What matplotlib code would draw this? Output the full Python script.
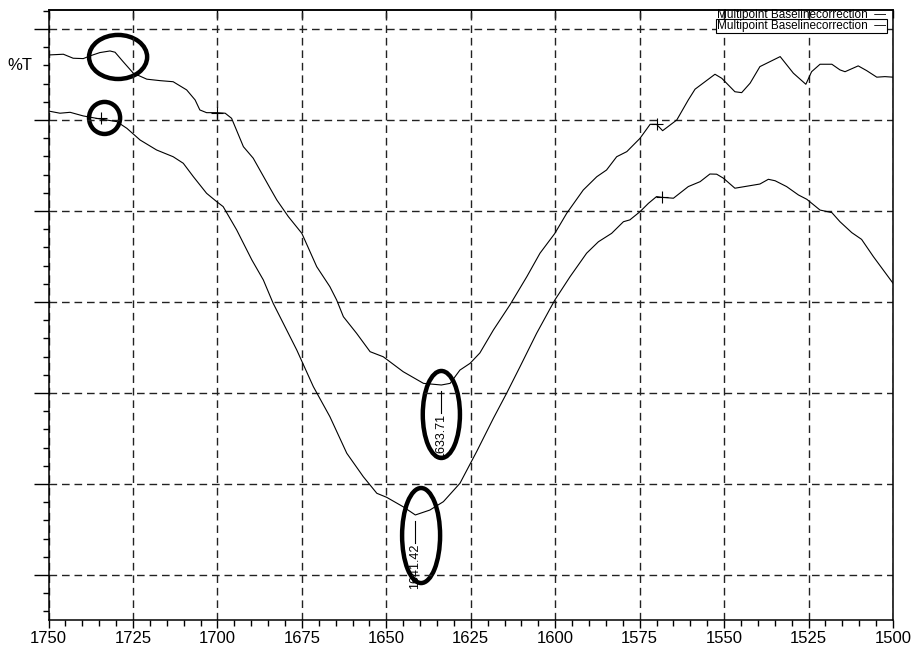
import matplotlib
matplotlib.use("Agg")
import matplotlib.pyplot as plt
from matplotlib.patches import Ellipse
from matplotlib.ticker import MultipleLocator
import numpy as np

# spectrum 1 (upper trace)
wn_a = [1750, 1745.6, 1742.7, 1739.7, 1737.7, 1734.8, 1731.8, 1730.3, 1727.9, 1724.9,
        1720.9, 1717.0, 1713.1, 1709.1, 1706.6, 1705.2, 1703.2, 1700.2, 1697.7, 1695.8,
        1692.3, 1689.4, 1684.4, 1682.4, 1679.0, 1675.0, 1670.6, 1666.7, 1664.7, 1662.7,
        1658.8, 1654.8, 1650.9, 1645.0, 1639.0, 1633.7, 1631.1, 1628.2, 1625.2, 1622.3,
        1618.3, 1613.4, 1608.4, 1604.5, 1600.1, 1596.6, 1591.7, 1587.7, 1584.8, 1581.8,
        1578.8, 1574.9, 1571.9, 1570.0, 1568.2, 1564.0, 1560.6, 1558.6, 1552.7, 1550.7,
        1546.8, 1544.8, 1542.3, 1539.4, 1533.4, 1529.5, 1525.8, 1524.1, 1521.6, 1518.1,
        1515.7, 1514.2, 1510.3, 1507.8, 1504.8, 1502.4, 1500]
t_a = [33.57, 33.61, 33.39, 33.37, 33.52, 33.70, 33.79, 33.72, 33.20, 32.57,
       32.24, 32.16, 32.10, 31.65, 31.10, 30.55, 30.40, 30.40, 30.37, 30.09,
       28.53, 27.90, 26.25, 25.60, 24.69, 23.77, 21.94, 20.84, 20.11, 19.19,
       18.28, 17.27, 16.99, 16.17, 15.53, 15.44, 15.53, 16.26, 16.63, 17.20,
       18.46, 19.84, 21.39, 22.68, 23.77, 24.87, 26.15, 26.88, 27.25, 27.98,
       28.26, 28.99, 29.76, 29.76, 29.41, 30.00, 31.10, 31.69, 32.51, 32.29,
       31.55, 31.50, 32.02, 32.93, 33.48, 32.57, 31.96, 32.65, 33.06, 33.06,
       32.75, 32.65, 32.97, 32.71, 32.35, 32.38, 32.35]

# spectrum 2 (lower trace)
wn_b = [1750, 1746.6, 1743.6, 1739.7, 1734.3, 1729.8, 1726.8, 1722.9, 1718.0, 1713.1,
        1710.1, 1707.1, 1703.2, 1700.2, 1698.3, 1694.3, 1689.8, 1686.4, 1683.5, 1680.5,
        1676.5, 1671.6, 1666.7, 1661.7, 1656.8, 1652.8, 1649.9, 1645.0, 1641.4, 1637.1,
        1633.1, 1628.2, 1623.2, 1618.3, 1614.4, 1610.4, 1605.5, 1600.1, 1595.6, 1590.7,
        1587.2, 1583.3, 1579.8, 1577.9, 1574.9, 1572.4, 1570.0, 1568.5, 1565.0, 1560.6,
        1557.1, 1554.2, 1552.2, 1550.2, 1546.8, 1539.4, 1536.9, 1534.9, 1531.5, 1528.0,
        1525.5, 1521.6, 1518.1, 1515.7, 1512.2, 1509.3, 1505.8, 1500]
t_b = [30.49, 30.37, 30.42, 30.22, 30.04, 29.91, 29.54, 28.90, 28.35, 27.98,
       27.62, 26.88, 25.97, 25.51, 25.24, 23.96, 22.31, 21.21, 19.93, 18.83,
       17.36, 15.35, 13.70, 11.69, 10.40, 9.49, 9.27, 8.75, 8.30, 8.57,
       9.03, 10.04, 11.80, 13.61, 14.98, 16.45, 18.28, 20.11, 21.39, 22.68,
       23.31, 23.77, 24.41, 24.51, 24.96, 25.42, 25.79, 25.75, 25.70, 26.34,
       26.61, 27.03, 27.02, 26.80, 26.25, 26.48, 26.74, 26.66, 26.34, 25.88,
       25.64, 25.05, 24.91, 24.41, 23.81, 23.44, 22.49, 21.03]

# baseline points ("+")
base_a_wn = [1700.0, 1570.0]
base_a_t = [30.40, 29.76]
base_b_wn = [1734.5, 1568.4]
base_b_t = [30.10, 25.75]

# picked peaks
peak_wn = [1633.71, 1641.42]
peak_t = [15.44, 8.30]
peak_txt = ["1633.71", "1641.42"]

legend_txt = "Multipoint Baselinecorrection"

narrow = ["Liberation Sans Narrow", "Liberation Sans", "DejaVu Sans"]
plt.rcParams["font.family"] = ["Liberation Sans", "DejaVu Sans"]

fig = plt.figure(figsize=(9.11, 6.52), dpi=100)
ax = fig.add_axes([48.5 / 911, 1 - 620 / 652, (893 - 48.5) / 911, 610 / 652])

ax.plot(wn_a, t_a, color="black", lw=0.8)
ax.plot(wn_b, t_b, color="black", lw=0.8)
ax.plot(base_a_wn, base_a_t, ls="none", marker="+", ms=9, mew=0.8, color="black")
ax.plot(base_b_wn, base_b_t, ls="none", marker="+", ms=9, mew=0.8, color="black")

for x, y, s in zip(peak_wn, peak_t, peak_txt):
    ax.plot([x, x], [y - 0.35, y - 1.55], color="black", lw=0.8)
    ax.text(x, y - 1.6, s, rotation=90, ha="center", va="top", fontsize=9)

ax.set_xlim(1750, 1500)
ax.set_ylim(2.53, 36.04)

ax.xaxis.set_major_locator(MultipleLocator(25))
ax.xaxis.set_minor_locator(MultipleLocator(5))
ax.yaxis.set_major_locator(MultipleLocator(5))
ax.yaxis.set_minor_locator(MultipleLocator(1))

ax.grid(which="major", color="#222222", lw=1.0, ls=(0, (5.5, 3.5)))

ax.tick_params(axis="x", which="major", direction="out", length=6, width=1, pad=2)
ax.tick_params(axis="x", which="minor", direction="out", length=4, width=1)
ax.tick_params(axis="y", which="major", direction="out", length=11, width=1, labelleft=False)
ax.tick_params(axis="y", which="minor", direction="out", length=4.5, width=1)
for lab in ax.get_xticklabels():
    lab.set_family(narrow)
    lab.set_fontsize(12)

top = ax.secondary_xaxis("top")
top.xaxis.set_major_locator(MultipleLocator(25))
top.tick_params(axis="x", which="major", direction="in", length=6, width=1, labeltop=False)
top.tick_params(axis="x", which="minor", length=0)

for sp in ax.spines.values():
    sp.set_linewidth(1.1)
for sp in top.spines.values():
    sp.set_linewidth(1.1)

fig.text(20 / 911, 1 - 66 / 652, "%T", ha="center", va="center", fontsize=12)

# legend entries
fig.text(886 / 911, 1 - 15 / 652, legend_txt + "  \u2014", ha="right", va="center",
         fontsize=8.5, family=narrow)
fig.text(886 / 911, 1 - 26 / 652, legend_txt + "  \u2014", ha="right", va="center",
         fontsize=8.5, family=narrow, zorder=5,
         bbox=dict(boxstyle="square,pad=0.1", fc="white", ec="black", lw=0.8))

# hand-drawn marks
marks = [(1729.4, 33.46, 17.2, 2.42), (1733.4, 30.11, 9.2, 1.76),
         (1633.7, 13.82, 11.0, 4.78), (1639.7, 7.17, 11.25, 5.22)]
for cx, cy, w, h in marks:
    ax.add_patch(Ellipse((cx, cy), w, h, fill=False, ec="black", lw=3.2))

fig.savefig("out.png", dpi=100)
